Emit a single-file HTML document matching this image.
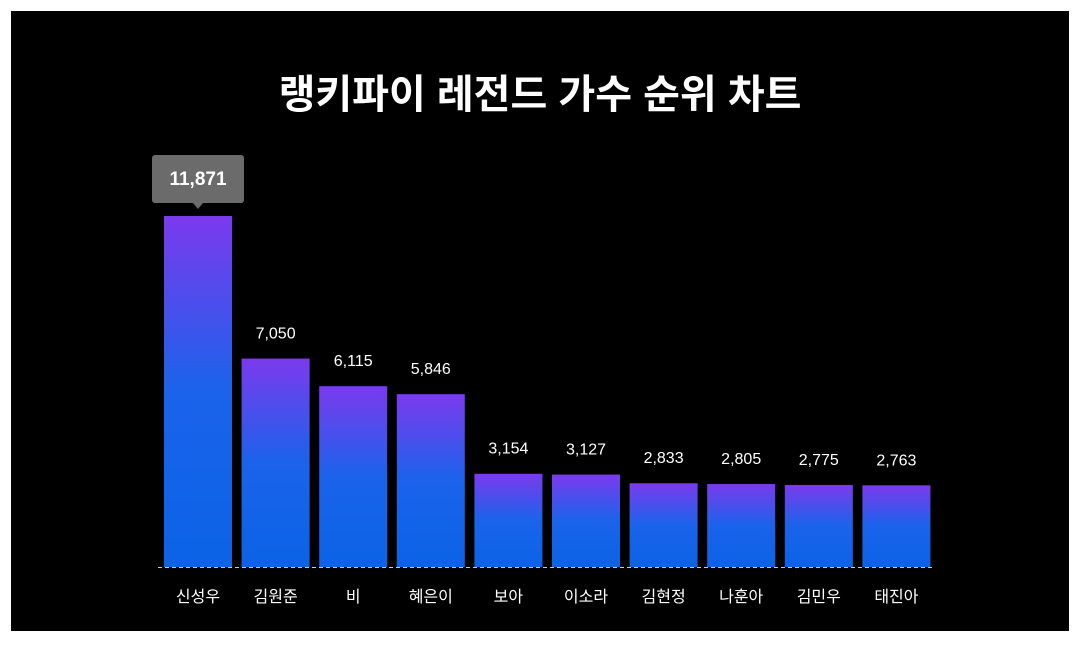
<!DOCTYPE html>
<html><head><meta charset="utf-8">
<style>
html,body{margin:0;padding:0;background:#fff;}
svg{display:block;font-family:"Liberation Sans","Noto Sans CJK KR",sans-serif;}
</style></head>
<body>
<svg width="1080" height="648" viewBox="0 0 1080 648">
<defs>
<linearGradient id="g" x1="0" y1="0" x2="0" y2="1">
<stop offset="0" stop-color="#7b3aed"/>
<stop offset="0.5" stop-color="#1a63ea"/>
<stop offset="1" stop-color="#0b63e6"/>
</linearGradient>
</defs>
<rect x="11" y="11" width="1058" height="620" fill="#000"/>
<text x="540" y="108" text-anchor="middle" fill="#fff" font-size="40" font-weight="bold">랭키파이 레전드 가수 순위 차트</text>
<g id="bars"></g>
<line x1="158" y1="567.5" x2="934" y2="567.5" stroke="#ccc" stroke-width="1" stroke-dasharray="4,3"/>
</svg>
<script>
const categories=["신성우","김원준","비","혜은이","보아","이소라","김현정","나훈아","김민우","태진아"];
const values=[11871,7050,6115,5846,3154,3127,2833,2805,2775,2763];
const NS="http://www.w3.org/2000/svg";
const g=document.getElementById("bars");
const baseY=567, scale=351/11871, x0=164, step=77.6, bw=68;
const y=v=>baseY-v*scale;
const maxV=Math.max(...values);
function mk(t,a){const e=document.createElementNS(NS,t);for(const k in a)e.setAttribute(k,a[k]);return e;}
categories.forEach((c,i)=>{
  const x=x0+i*step, v=values[i], top=y(v);
  const r=mk("rect",{x:x,y:top,width:bw,height:baseY-top,fill:"url(#g)"});
  
  
  g.appendChild(r);
  const cx=x+bw/2;
  if(v===maxV){
    const tip=mk("rect",{x:cx-46,y:top-61,width:92,height:48,rx:3,fill:"#6b6b6b"});
    
    
    g.appendChild(tip);
    const ar=mk("path",{d:`M${cx-5} ${top-13}L${cx} ${top-7}L${cx+5} ${top-13}Z`,fill:"#6b6b6b"});
    
    
    g.appendChild(ar);
    const t=mk("text",{x:cx,y:top-31,"text-anchor":"middle",fill:"#fff","font-size":"19","font-weight":"bold"});
    t.textContent=v.toLocaleString("en-US");
    
    
    g.appendChild(t);
  } else {
    const t=mk("text",{x:cx,y:top-20,"text-anchor":"middle",fill:"#fff","font-size":"16"});
    t.textContent=v.toLocaleString("en-US");
    
    
    g.appendChild(t);
  }
  const l=mk("text",{x:cx,y:602,"text-anchor":"middle",fill:"#fff","font-size":"16"});
  l.textContent=c;
  
  
  g.appendChild(l);
});
</script>
</body></html>
